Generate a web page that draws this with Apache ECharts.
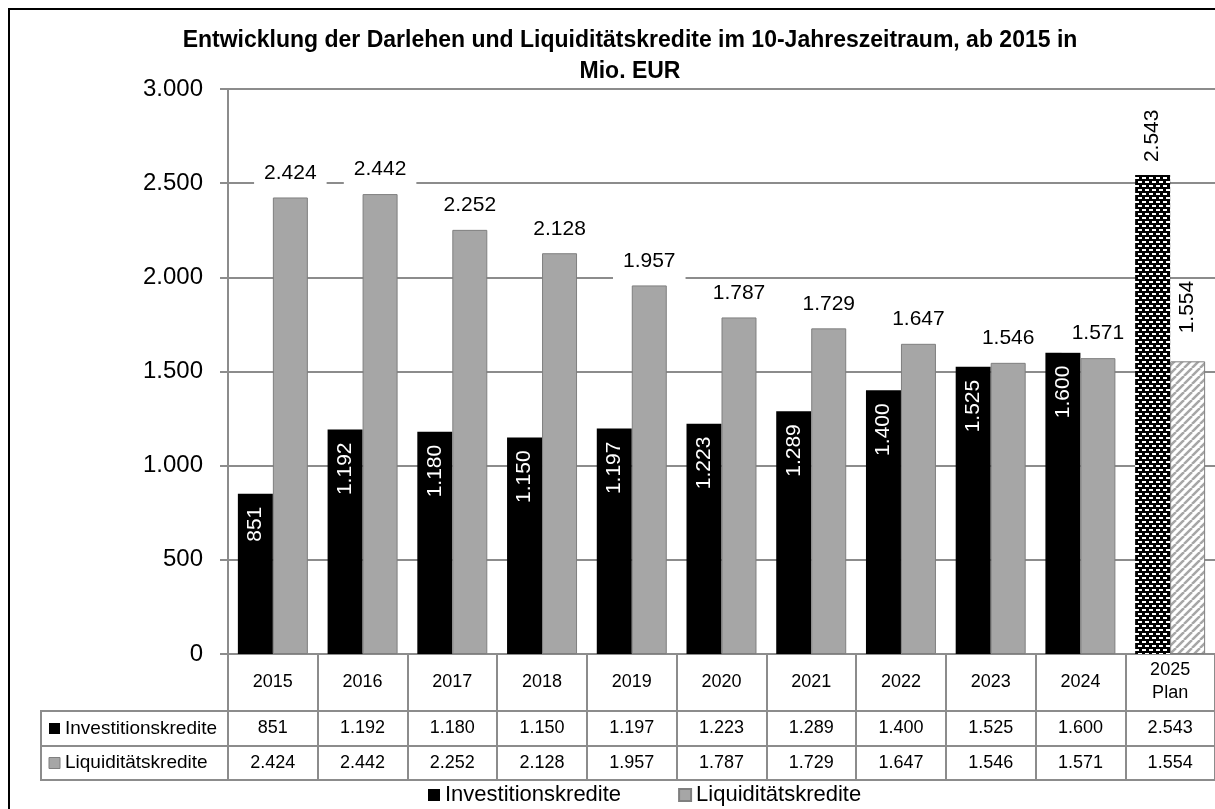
<!DOCTYPE html>
<html><head><meta charset="utf-8">
<script src="https://cdn.jsdelivr.net/npm/echarts@6/dist/echarts.min.js"></script>
<style>html,body{margin:0;padding:0;background:#fff;overflow:hidden}#c{width:1215px;height:809px}</style>
</head><body><div id="c"></div>
<script>
const categories = ['2015','2016','2017','2018','2019','2020','2021','2022','2023','2024','2025\nPlan'];
const investitionskredite = [851,1192,1180,1150,1197,1223,1289,1400,1525,1600,2543];
const liquiditaetskredite = [2424,2442,2252,2128,1957,1787,1729,1647,1546,1571,1554];
const seriesNames = ['Investitionskredite','Liquiditätskredite'];
const yMin = 0, yMax = 3000, yStep = 500;
const titleText = 'Entwicklung der Darlehen und Liquiditätskredite im 10-Jahreszeitraum, ab 2015 in\nMio. EUR';

const FONT = "'Liberation Sans', Arial, sans-serif";
const LINE = '#8c8c8c';
const GRAY = '#a6a6a6';

function fmt(n){ return String(n).replace(/\B(?=(\d{3})+(?!\d))/g,'.'); }

function makePattern(kind){
  const c = document.createElement('canvas');
  const g = c.getContext('2d');
  if (kind === 'dots') {
    c.width = 7; c.height = 8;
    g.fillStyle = '#000'; g.fillRect(0,0,7,8);
    g.fillStyle = '#fff';
    g.fillRect(1,1,4,2); g.fillRect(4,5,3,2); g.fillRect(0,5,1,2);
  } else {
    c.width = 8; c.height = 8;
    g.fillStyle = '#fff'; g.fillRect(0,0,8,8);
    g.strokeStyle = GRAY; g.lineWidth = 2.5;
    for (let k = -8; k <= 16; k += 8) { g.beginPath(); g.moveTo(k,8); g.lineTo(k+8,0); g.stroke(); }
  }
  return {image: c, repeat: 'repeat'};
}

const last = categories.length - 1;
const chart = echarts.init(document.getElementById('c'));

function tableAxis(offset, tickLen, margin, values){
  return {
    type:'category', data:categories, position:'bottom', offset:offset,
    axisLine:{show:true, lineStyle:{color:LINE, width:2}},
    axisTick:{show: tickLen>0, length:tickLen, interval:0, lineStyle:{color:LINE, width:2}},
    axisLabel:{show: !!values, interval:0, margin:margin, verticalAlign:'middle', fontSize:18, color:'#000', fontFamily:FONT,
      formatter: values ? (v,i)=>fmt(values[i]) : undefined},
    splitLine:{show:false}
  };
}

const option = {
  animation:false,
  backgroundColor:'#fff',
  grid:{left:228, right:0, top:89, bottom:155, containLabel:false},
  legend:{left:423, top:779, itemWidth:12, itemHeight:12, itemGap:57, icon:'rect',
    data: seriesNames, textStyle:{fontSize:22, color:'#000', fontFamily:FONT}},
  xAxis:[
    {type:'category', data:categories, position:'bottom', offset:0,
     axisLine:{show:true, lineStyle:{color:LINE, width:2}},
     axisTick:{show:true, length:57, interval:0, lineStyle:{color:LINE, width:2}},
     axisLabel:{interval:0, margin:28, verticalAlign:'middle', fontSize:18, lineHeight:23, color:'#000', fontFamily:FONT},
     splitLine:{show:false}},
    tableAxis(57, 35, 17.5, investitionskredite),
    tableAxis(92, 34, 17, liquiditaetskredite),
    tableAxis(126, 0, 0, null)
  ],
  yAxis:{type:'value', min:yMin, max:yMax, interval:yStep,
    axisLine:{show:true, lineStyle:{color:LINE, width:2}},
    axisTick:{show:true, length:8, lineStyle:{color:LINE, width:2}},
    axisLabel:{fontSize:24, color:'#000', margin:25, fontFamily:FONT, formatter:v=>fmt(v)},
    splitLine:{show:true, lineStyle:{color:LINE, width:2}}},
  series:[
    {name:seriesNames[0], type:'bar', xAxisIndex:0, barGap:'0%', barCategoryGap:'22%',
     itemStyle:{color:'#000'},
     label:{show:true, position:'insideTop', rotate:90, align:'right', verticalAlign:'middle', distance:13,
       color:'#fff', fontSize:21, fontFamily:FONT, formatter:p=>fmt(p.value)},
     data: investitionskredite.map((v,i)=> i===last ? {value:v, itemStyle:{color:makePattern('dots')},
       label:{position:'top', rotate:90, align:'left', verticalAlign:'middle', distance:13, color:'#000'}} : v)},
    {name:seriesNames[1], type:'bar', xAxisIndex:0, barGap:'0%', barCategoryGap:'22%',
     itemStyle:{color:GRAY, borderColor:'#7f7f7f', borderWidth:1},
     label:{show:true, position:'top', distance:6, color:'#000', fontSize:21, fontFamily:FONT,
       backgroundColor:'#fff', padding:[2,10,8,10], formatter:p=>fmt(p.value)},
     data: liquiditaetskredite.map((v,i)=> i===last ? {value:v, itemStyle:{color:makePattern('stripes'), borderColor:'#7f7f7f', borderWidth:1},
       label:{position:'top', rotate:90, align:'left', verticalAlign:'middle', distance:28, backgroundColor:'transparent', padding:0}} : v)}
  ],
  graphic:[
    {type:'rect', silent:true, shape:{x:9, y:9, width:1400, height:1000}, style:{fill:'none', stroke:'#000', lineWidth:2}, z:-1},
    {type:'text', x:630, y:25, style:{text:titleText, font:"bold 23px 'Liberation Sans', Arial, sans-serif", fill:'#000', align:'center', verticalAlign:'top', lineHeight:31}},
    {type:'line', shape:{x1:41, y1:711, x2:228, y2:711}, style:{stroke:LINE, lineWidth:2}},
    {type:'line', shape:{x1:41, y1:746, x2:228, y2:746}, style:{stroke:LINE, lineWidth:2}},
    {type:'line', shape:{x1:41, y1:780, x2:228, y2:780}, style:{stroke:LINE, lineWidth:2}},
    {type:'line', shape:{x1:41, y1:710, x2:41, y2:781}, style:{stroke:LINE, lineWidth:2}},
    {type:'rect', shape:{x:49, y:723, width:11, height:11}, style:{fill:'#000'}},
    {type:'text', x:65, y:728.5, style:{text:seriesNames[0], font:"19px 'Liberation Sans', Arial, sans-serif", fill:'#000', verticalAlign:'middle'}},
    {type:'rect', shape:{x:49, y:757.5, width:11, height:11}, style:{fill:GRAY, stroke:'#7f7f7f', lineWidth:1}},
    {type:'text', x:65, y:763, style:{text:seriesNames[1], font:"19px 'Liberation Sans', Arial, sans-serif", fill:'#000', verticalAlign:'middle'}}
  ]
};
chart.setOption(option);
</script></body></html>
